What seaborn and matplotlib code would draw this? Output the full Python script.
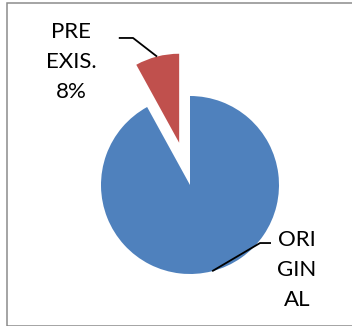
import numpy as np
import matplotlib
matplotlib.use("Agg")
import matplotlib.pyplot as plt
from matplotlib.patches import Rectangle
import seaborn as sns

# Share of cases by origin
categories = ["ORIGINAL", "PRE EXIS."]
shares = [92, 8]
label_texts = ["ORI\nGIN\nAL", "PRE\nEXIS.\n8%"]
slice_colors = ["#4F81BD", "#C0504D"]

sns.set_theme(style="white")
plt.rcParams["font.family"] = ["Lato", "DejaVu Sans"]
palette = sns.color_palette(slice_colors)

W, H = 352, 326
fig = plt.figure(figsize=(W / 100, H / 100), dpi=100)
ax = fig.add_axes([0, 0, 1, 1])

R = 89.0                     # pie radius in pixels
cx, cy = 190.0, 185.0        # pie centre in pixels (from top-left)

wedges, _ = ax.pie(
    shares,
    colors=palette,
    startangle=90,
    counterclock=False,
    explode=[0, 0.49],
    radius=1.0,
    wedgeprops=dict(linewidth=0),
)

ax.set_xlim(-cx / R, (W - cx) / R)
ax.set_ylim(-(H - cy) / R, cy / R)
ax.set_aspect("auto")
ax.axis("off")

# label placement: (text centre, elbow point, end of horizontal tick), radius units
label_layout = [
    ((1.202, -0.955), (0.787, -0.652), (0.91, -0.652)),
    ((-1.337, 1.382), (-0.64, 1.652), (-0.80, 1.652)),
]

for wedge, text, (tpos, elbow, tick_end) in zip(wedges, label_texts, label_layout):
    mid = np.deg2rad((wedge.theta1 + wedge.theta2) / 2)
    ox, oy = wedge.center
    rim = (ox + wedge.r * np.cos(mid), oy + wedge.r * np.sin(mid))
    ax.plot([rim[0], elbow[0], tick_end[0]], [rim[1], elbow[1], tick_end[1]],
            color="black", lw=1.3, solid_capstyle="butt")
    ax.text(tpos[0], tpos[1], text, ha="center", va="center",
            fontsize=16, linespacing=1.6, color="black")

# chart frame
fig.patches.append(Rectangle((7.5 / W, 1 - 325.5 / H), 1, (323 / H),
                             transform=fig.transFigure, fill=False,
                             edgecolor="#8c8c8c", linewidth=1.1))

fig.savefig("out.png", dpi=100)
